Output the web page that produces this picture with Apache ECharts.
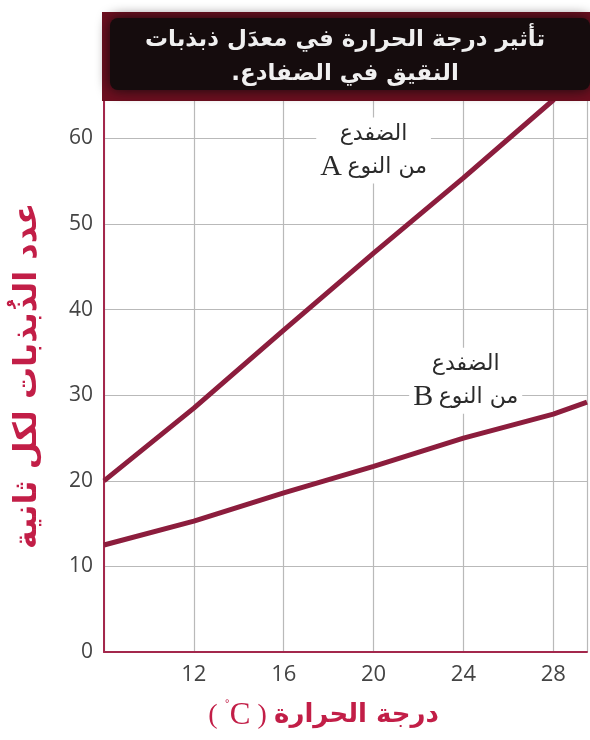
<!DOCTYPE html>
<html>
<head>
<meta charset="utf-8">
<script src="https://cdn.jsdelivr.net/npm/echarts@6/dist/echarts.min.js"></script>
<style>
  html, body { margin: 0; padding: 0; background: #ffffff; }
  #chart { width: 590px; height: 740px; }
</style>
</head>
<body>
<div id="chart"></div>
<script>
// temperature (C) where the lines were read
const temps = [8, 12, 16, 20, 24, 28, 29.5]
// chirps per second, frog A and frog B
const frogA = [20, 28.5, 37.6, 46.6, 55.4, 64.5, 68]
const frogB = [12.5, 15.3, 18.6, 21.7, 25.0, 27.8, 29.2]
const xTicks = [12, 16, 20, 24, 28]
const yTicks = [0, 10, 20, 30, 40, 50, 60]

const titleLines = ['تأثير درجة الحرارة في معدَل ذبذبات', 'النقيق في الضفادع']
const yName = 'عدد الذُبذبات لكل ثانية'
const xName = 'درجة الحرارة'
const frogWord = 'الضفدع'
const typeWord = 'من النوع'

const lineColor = '#8c1d3d'
const redText = '#c21e47'
const arabicFont = '"DejaVu Sans", sans-serif'

const chart = echarts.init(document.getElementById('chart'), null, { renderer: 'canvas' })

function frogLabel(letter) {
    return '{t|' + frogWord + '}\n{l|' + letter + '}{s| }{t|' + typeWord + '}'
}

function labelPoint(coord, letter) {
    return {
        symbol: 'circle',
        symbolSize: 1,
        silent: true,
        itemStyle: { color: 'rgba(0,0,0,0)' },
        label: {
            show: true,
            position: 'inside',
            formatter: frogLabel(letter),
            backgroundColor: '#ffffff',
            padding: [0, 4, 0, 4],
            align: 'center',
            rich: {
                t: { fontFamily: arabicFont, fontSize: 22, color: '#2a2a2a', lineHeight: 33 },
                l: { fontFamily: '"Liberation Serif", serif', fontSize: 30, color: '#2a2a2a', lineHeight: 33 },
                s: { fontSize: 20, lineHeight: 33 }
            }
        },
        data: [{ coord: coord }]
    }
}

const options = {
    animation: false,
    grid: { left: 104, right: 0, top: 100, bottom: 88, containLabel: false },
    xAxis: {
        type: 'value',
        min: 8,
        max: 29.5,
        interval: 4,
        axisLine: { show: true, lineStyle: { color: '#a3284c', width: 2 } },
        axisTick: { show: false },
        splitLine: {
            show: true,
            lineStyle: { color: '#b9b9b9', width: 1.2 }
        },
        axisLabel: {
            margin: 12,
            fontFamily: '"Open Sans", sans-serif',
            fontSize: 22,
            color: '#444',
            formatter: (v) => xTicks.indexOf(v) >= 0 ? String(v) : ''
        },
        name: '{p|( }{d|˚}{c|C}{p| )}{sp| }{a|' + xName + '}',
        nameLocation: 'middle',
        nameGap: 48,
        nameTextStyle: {
            padding: [0, 44, 0, 0],
            rich: {
                p: { fontFamily: '"Liberation Serif", serif', fontSize: 28, color: redText },
                d: { fontFamily: '"Liberation Serif", serif', fontSize: 16, color: redText, verticalAlign: 'top', padding: [0, 0, 12, 0] },
                c: { fontFamily: '"Liberation Serif", serif', fontSize: 31, color: redText },
                sp: { fontSize: 26 },
                a: { fontFamily: arabicFont, fontSize: 26, fontWeight: 'bold', color: redText }
            }
        }
    },
    yAxis: {
        type: 'value',
        min: 0,
        max: 64.5,
        interval: 10,
        axisLine: { show: true, lineStyle: { color: '#a3284c', width: 2 } },
        axisTick: { show: false },
        splitLine: {
            show: true,
            lineStyle: { color: '#b9b9b9', width: 1.2 }
        },
        axisLabel: {
            margin: 11,
            fontFamily: '"Open Sans", sans-serif',
            fontSize: 21,
            color: '#444',
            formatter: (v) => yTicks.indexOf(v) >= 0 ? String(v) : ''
        },
        name: yName,
        nameLocation: 'middle',
        nameGap: 60,
        nameRotate: 90,
        nameTextStyle: {
            fontFamily: arabicFont,
            fontSize: 32,
            fontWeight: 'bold',
            color: redText
        }
    },
    series: [
        {
            name: 'A',
            type: 'line',
            data: temps.map((t, i) => [t, frogA[i]]),
            symbol: 'none',
            clip: true,
            lineStyle: { color: lineColor, width: 5 },
            markPoint: labelPoint([20.0, 58.6], 'A'),
            z: 3
        },
        {
            name: 'B',
            type: 'line',
            data: temps.map((t, i) => [t, frogB[i]]),
            symbol: 'none',
            clip: true,
            lineStyle: { color: lineColor, width: 5 },
            markPoint: labelPoint([24.1, 31.7], 'B'),
            z: 3
        }
    ],
    graphic: [
        {
            type: 'rect',
            z: 100,
            shape: { x: 102, y: 12, width: 492, height: 89 },
            style: { fill: '#6e0f20' }
        },
        {
            type: 'rect',
            z: 101,
            shape: { x: 110, y: 18, width: 480, height: 72, r: 8 },
            style: { fill: '#150c0d', shadowBlur: 14, shadowColor: '#150c0d' }
        },
        {
            type: 'text',
            z: 102,
            x: 345,
            y: 40,
            style: {
                text: titleLines[0],
                fontFamily: arabicFont,
                fontSize: 23,
                fontWeight: 'bold',
                fill: '#f0f0f0',
                align: 'center',
                verticalAlign: 'middle'
            }
        },
        {
            type: 'text',
            z: 102,
            x: 345,
            y: 74,
            style: {
                // the full stop leads so it lands on the left end of the line
                text: '.' + titleLines[1],
                fontFamily: arabicFont,
                fontSize: 23,
                fontWeight: 'bold',
                fill: '#f0f0f0',
                align: 'center',
                verticalAlign: 'middle'
            }
        }
    ]
}

chart.setOption(options)
</script>
</body>
</html>
